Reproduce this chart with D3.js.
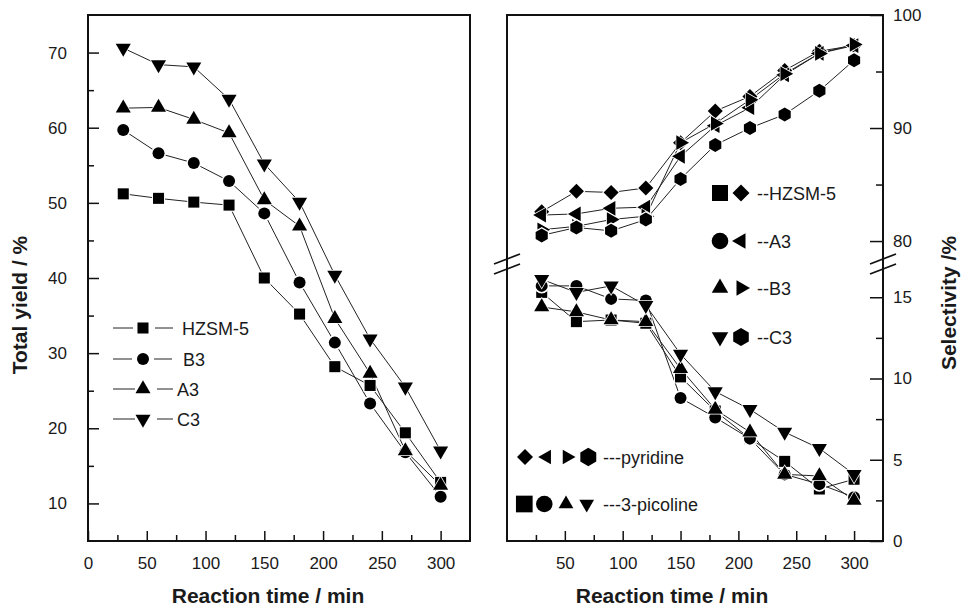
<!DOCTYPE html>
<meta charset="utf-8">
<script src="https://d3js.org/d3.v7.min.js"></script>
<style>
  body { margin: 0; background: #fff; }
  text { font-family: "Liberation Sans", Arial, sans-serif; fill: #1a1a1a; }
</style>
<div id="chart"></div>
<script>
// reaction time (min)
var time = [30, 60, 90, 120, 150, 180, 210, 240, 270, 300];

// left panel: total yield (%)
var yieldHZSM5 = [51.2, 50.6, 50.1, 49.7, 40.0, 35.2, 28.2, 25.7, 19.4, 12.8];
var yieldB3    = [59.7, 56.6, 55.3, 52.9, 48.6, 39.4, 31.4, 23.3, 16.8, 10.9];
var yieldA3    = [62.6, 62.7, 61.1, 59.3, 50.4, 46.9, 34.6, 27.3, 17.0, 12.4];
var yieldC3    = [70.6, 68.4, 68.1, 63.8, 55.2, 50.1, 40.4, 31.9, 25.5, 17.0];

// right panel: selectivity to pyridine (%)
var pyrHZSM5 = [82.6, 84.4, 84.3, 84.7, 88.7, 91.5, 92.8, 95.1, 96.8, 97.3];
var pyrA3    = [82.3, 82.4, 82.9, 83.0, 87.5, 90.2, 91.8, 94.7, 96.6, 97.3];
var pyrB3    = [81.0, 81.3, 81.9, 82.2, 88.7, 90.4, 92.5, 94.8, 96.6, 97.4];
var pyrC3    = [80.5, 81.2, 80.9, 81.9, 85.5, 88.5, 90.0, 91.2, 93.3, 96.0];

// right panel: selectivity to 3-picoline (%)
var picHZSM5 = [15.3, 13.5, 13.6, 13.4, 10.1, 8.0, 6.3, 4.9, 3.2, 3.8];
var picA3    = [15.7, 15.7, 14.9, 14.8, 8.8, 7.6, 6.3, 4.1, 3.5, 2.7];
var picB3    = [14.4, 14.1, 13.6, 13.5, 10.6, 8.1, 6.7, 4.1, 4.0, 2.5];
var picC3    = [16.1, 15.3, 15.7, 14.5, 11.5, 9.2, 8.1, 6.7, 5.7, 4.1];

// ticks
var xMajorL = [0, 50, 100, 150, 200, 250, 300];
var xMajorR = [50, 100, 150, 200, 250, 300];
var xMinor  = [25, 75, 125, 175, 225, 275];
var yMajorL = [10, 20, 30, 40, 50, 60, 70];
var yMinorL = [15, 25, 35, 45, 55, 65];
var yMajorUp = [80, 90, 100], yMinorUp = [85, 95];
var yMajorLo = [0, 5, 10, 15], yMinorLo = [2.5, 7.5, 12.5];

// legends
var leftNames  = ["HZSM-5", "B3", "A3", "C3"];
var rightNames = ["--HZSM-5", "--A3", "--B3", "--C3"];
var kindNames  = ["---pyridine", "---3-picoline"];

var W = 961, H = 608;
var svg = d3.select("#chart").append("svg").attr("width", W).attr("height", H);

// marker shapes as custom d3 symbol types (size = r*r)
function poly(n, rot) {
  return { draw: function(ctx, size) {
    var r = Math.sqrt(size);
    for (var i = 0; i < n; i++) {
      var a = rot + i * 2 * Math.PI / n;
      var px = r * Math.sin(a), py = -r * Math.cos(a);
      if (i) ctx.lineTo(px, py); else ctx.moveTo(px, py);
    }
    ctx.closePath();
  }};
}
var round = { draw: function(ctx, size) {
  var r = Math.sqrt(size);
  ctx.moveTo(r, 0); ctx.arc(0, 0, r, 0, 2 * Math.PI);
}};
var shapes = {
  square: poly(4, Math.PI / 4), circle: round, up: poly(3, 0), down: poly(3, Math.PI),
  left: poly(3, -Math.PI / 2), right: poly(3, Math.PI / 2), diamond: poly(4, 0), hexagon: poly(6, 0)
};
var radius = { square: 7.8, circle: 6, up: 8.7, down: 8.7, left: 8.5, right: 8.5, diamond: 7.5, hexagon: 7 };

function marker(g, shape, r, cx, cy, halo) {
  if (halo) {
    g.append("path").attr("d", d3.symbol(shapes[shape], (r + halo) * (r + halo))())
      .attr("transform", "translate(" + cx + "," + cy + ")").attr("fill", "#fff");
  }
  g.append("path").attr("d", d3.symbol(shapes[shape], r * r)())
    .attr("transform", "translate(" + cx + "," + cy + ")").attr("fill", "#000");
}

function plotSeries(g, x, y, list) {
  list.forEach(function(s) {
    g.append("path").datum(s.vals)
      .attr("d", d3.line().x(function(d, i) { return x(time[i]); }).y(function(d) { return y(d); }))
      .attr("fill", "none").attr("stroke", "#222").attr("stroke-width", 1);
  });
  list.forEach(function(s) {
    s.vals.forEach(function(v, i) { marker(g, s.shape, radius[s.shape], x(time[i]), y(v), 1.5); });
  });
}

function styleAxis(g, size) {
  g.select(".domain").remove();
  g.attr("font-family", null).attr("font-size", size);
  g.selectAll("line").attr("stroke", "#111").attr("stroke-width", 1.5);
  g.selectAll("text").attr("fill", "#1a1a1a");
}

// ---------------- left panel ----------------
var xL = d3.scaleLinear().domain([0, 325]).range([88, 470]);
var yL = d3.scaleLinear().domain([5, 75]).range([541, 15]);

svg.append("g").attr("transform", "translate(0,541)")
  .call(d3.axisBottom(xL).tickValues(xMajorL).tickSize(-10).tickPadding(16))
  .call(styleAxis, 17);
svg.append("g").attr("transform", "translate(0,541)")
  .call(d3.axisBottom(xL).tickValues(xMinor).tickSize(-6).tickFormat(""))
  .call(styleAxis, 17);
svg.append("g").attr("transform", "translate(88,0)")
  .call(d3.axisLeft(yL).tickValues(yMajorL).tickSize(-11).tickPadding(21))
  .call(styleAxis, 17);
svg.append("g").attr("transform", "translate(88,0)")
  .call(d3.axisLeft(yL).tickValues(yMinorL).tickSize(-6).tickFormat(""))
  .call(styleAxis, 17);

var gL = svg.append("g");
plotSeries(gL, xL, yL, [
  { vals: yieldHZSM5, shape: "square" },
  { vals: yieldB3, shape: "circle" },
  { vals: yieldA3, shape: "up" },
  { vals: yieldC3, shape: "down" }
]);

svg.append("rect").attr("x", 88).attr("y", 15).attr("width", 382).attr("height", 526)
  .attr("fill", "none").attr("stroke", "#111").attr("stroke-width", 2);

// left legend
var legL = svg.append("g");
var legLShapes = ["square", "circle", "up", "down"];
var legLRows = [328, 359, 389, 419];
var legLText = [182, 183, 177, 177];
var legLSeg = [[113, 133, 155, 173], [113, 132, 154, 172], [113, 135, 157, 173], [113, 135, 157, 173]];
leftNames.forEach(function(name, i) {
  var y = legLRows[i], s = legLSeg[i];
  legL.append("line").attr("x1", s[0]).attr("x2", s[1]).attr("y1", y).attr("y2", y).attr("stroke", "#222");
  legL.append("line").attr("x1", s[2]).attr("x2", s[3]).attr("y1", y).attr("y2", y).attr("stroke", "#222");
  marker(legL, legLShapes[i], radius[legLShapes[i]], 143, y, 0);
  legL.append("text").attr("x", legLText[i]).attr("y", y + 6.5).attr("font-size", 18).text(name);
});

// ---------------- right panel ----------------
var xR = d3.scaleLinear().domain([0, 325]).range([507, 883]);
var yUp = d3.scaleLinear().domain([78.5, 100]).range([258, 15]);
var yLo = d3.scaleLinear().domain([0, 16.8]).range([541, 268]);

svg.append("g").attr("transform", "translate(0,541)")
  .call(d3.axisBottom(xR).tickValues(xMajorR).tickSize(-10).tickPadding(16))
  .call(styleAxis, 17);
svg.append("g").attr("transform", "translate(0,541)")
  .call(d3.axisBottom(xR).tickValues(xMinor).tickSize(-6).tickFormat(""))
  .call(styleAxis, 17);
[[yUp, yMajorUp, yMinorUp], [yLo, yMajorLo, yMinorLo]].forEach(function(a) {
  svg.append("g").attr("transform", "translate(883,0)")
    .call(d3.axisRight(a[0]).tickValues(a[1]).tickSize(-13).tickPadding(10))
    .call(styleAxis, 17);
  svg.append("g").attr("transform", "translate(883,0)")
    .call(d3.axisRight(a[0]).tickValues(a[2]).tickSize(-7).tickFormat(""))
    .call(styleAxis, 17);
});

var gR = svg.append("g");
plotSeries(gR, xR, yUp, [
  { vals: pyrHZSM5, shape: "diamond" },
  { vals: pyrA3, shape: "left" },
  { vals: pyrB3, shape: "right" },
  { vals: pyrC3, shape: "hexagon" }
]);
plotSeries(gR, xR, yLo, [
  { vals: picHZSM5, shape: "square" },
  { vals: picA3, shape: "circle" },
  { vals: picB3, shape: "up" },
  { vals: picC3, shape: "down" }
]);

svg.append("rect").attr("x", 507).attr("y", 15).attr("width", 376).attr("height", 526)
  .attr("fill", "none").attr("stroke", "#111").attr("stroke-width", 2);

// axis break marks
[507, 883].forEach(function(x) {
  [-5, 5].forEach(function(o) {
    svg.append("line").attr("x1", x - 13).attr("y1", 264 + o + 5).attr("x2", x + 13).attr("y2", 264 + o - 5)
      .attr("stroke", "#111").attr("stroke-width", 1.8);
  });
});

// right legend (catalysts)
var legR = svg.append("g");
var legRShapes = [["square", "diamond"], ["circle", "left"], ["up", "right"], ["down", "hexagon"]];
var legRSize = [[11.3, 8.5], [8.3, 9], [9.5, 9], [9.5, 9]];
var legRRows = [193, 241, 288, 337];
rightNames.forEach(function(name, i) {
  var y = legRRows[i];
  marker(legR, legRShapes[i][0], legRSize[i][0], 720, y, 0);
  marker(legR, legRShapes[i][1], legRSize[i][1], 741, y, 0);
  legR.append("text").attr("x", 757).attr("y", y + 6.5).attr("font-size", 18).text(name);
});

// product legend
var legK = svg.append("g");
var legKShapes = [["diamond", "left", "right", "hexagon"], ["square", "circle", "up", "down"]];
var legKSize = [[8, 8.5, 8.5, 9.2], [11.8, 8.3, 8.5, 8.5]];
var legKX = [[525, 546.7, 567, 588.3], [524.3, 544.3, 566, 586.7]];
var legKRows = [457, 504];
kindNames.forEach(function(name, i) {
  var y = legKRows[i];
  legKShapes[i].forEach(function(sh, j) { marker(legK, sh, legKSize[i][j], legKX[i][j], y, 0); });
  legK.append("text").attr("x", 603).attr("y", y + 6.5).attr("font-size", 18).text(name);
});

// axis titles
svg.append("text").attr("x", 268).attr("y", 603).attr("text-anchor", "middle")
  .attr("font-size", 21).attr("font-weight", "bold").text("Reaction time / min");
svg.append("text").attr("x", 672).attr("y", 603).attr("text-anchor", "middle")
  .attr("font-size", 21).attr("font-weight", "bold").text("Reaction time / min");
svg.append("text").attr("transform", "translate(27,305) rotate(-90)").attr("text-anchor", "middle")
  .attr("font-size", 21).attr("font-weight", "bold").text("Total yield / %");
svg.append("text").attr("transform", "translate(956,303) rotate(-90)").attr("text-anchor", "middle")
  .attr("font-size", 21).attr("font-weight", "bold").text("Selectivity /%");
</script>
